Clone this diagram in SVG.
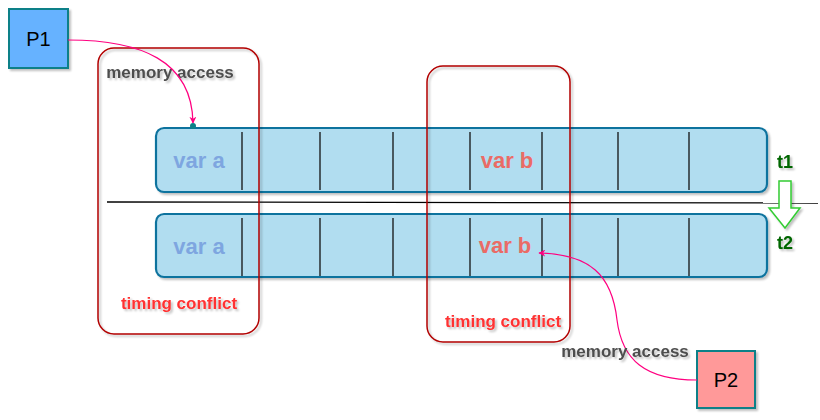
<svg xmlns="http://www.w3.org/2000/svg" width="820" height="420" viewBox="0 0 820 420">
<defs>
<filter id="sh" x="-20%" y="-20%" width="140%" height="140%">
<feGaussianBlur in="SourceAlpha" stdDeviation="1.2"/>
<feOffset dx="2" dy="2" result="o"/>
<feComponentTransfer><feFuncA type="linear" slope="0.25"/></feComponentTransfer>
<feMerge><feMergeNode/><feMergeNode in="SourceGraphic"/></feMerge>
</filter>
<marker id="ah" viewBox="0 0 10 10" refX="9" refY="5" markerWidth="7" markerHeight="7" orient="auto-start-reverse" markerUnits="userSpaceOnUse">
<path d="M0,0 L10,5 L0,10 L3,5 Z" fill="#ff0080"/>
</marker>
<style>
.bar{fill:#b1ddf0;stroke:#10739e;stroke-width:2.2;filter:url(#sh)}
.div{stroke:#111;stroke-width:1.3}
.frame{fill:none;stroke:#b20000;stroke-width:1.5;filter:url(#sh)}
.varA{font-family:"Liberation Sans",Arial,sans-serif;font-weight:bold;font-size:22px;fill:#7ea6e0;text-anchor:middle}
.varB{font-family:"Liberation Sans",Arial,sans-serif;font-weight:bold;font-size:22px;fill:#ea6b66;text-anchor:middle}
.lbl{font-family:"Liberation Sans",Arial,sans-serif;font-weight:bold;font-size:17px;fill:#4d4d4d;text-anchor:middle;filter:url(#sh)}
.tc{font-family:"Liberation Sans",Arial,sans-serif;font-weight:bold;font-size:17px;fill:#ff3333;text-anchor:middle;filter:url(#sh)}
.t{font-family:"Liberation Sans",Arial,sans-serif;font-weight:bold;font-size:18px;fill:#006600;text-anchor:middle;filter:url(#sh)}
.proc{stroke:#0e8088;stroke-width:2;filter:url(#sh)}
.ptxt{font-family:"Liberation Sans",Arial,sans-serif;font-size:20px;fill:#000;text-anchor:middle}
.conn{fill:none;stroke:#ff0080;stroke-width:1.2}
</style>
</defs>
<rect width="820" height="420" fill="#fff"/>

<g id="memory-row-t1">
<rect class="bar" x="156" y="128" width="611" height="64" rx="8"/>
<g class="div">
<line x1="242" y1="132" x2="242" y2="190"/>
<line x1="320" y1="132" x2="320" y2="190"/>
<line x1="393" y1="132" x2="393" y2="190"/>
<line x1="470" y1="132" x2="470" y2="190"/>
<line x1="542" y1="132" x2="542" y2="190"/>
<line x1="618" y1="132" x2="618" y2="190"/>
<line x1="689" y1="132" x2="689" y2="190"/>
</g>
<text class="varA" x="199" y="168">var a</text>
<text class="varB" x="507" y="168">var b</text>
</g>

<g id="memory-row-t2">
<rect class="bar" x="156" y="214" width="611" height="63" rx="8"/>
<g class="div">
<line x1="242" y1="218" x2="242" y2="276"/>
<line x1="320" y1="218" x2="320" y2="276"/>
<line x1="393" y1="218" x2="393" y2="276"/>
<line x1="470" y1="218" x2="470" y2="276"/>
<line x1="542" y1="218" x2="542" y2="276"/>
<line x1="618" y1="218" x2="618" y2="276"/>
<line x1="689" y1="218" x2="689" y2="276"/>
</g>
<text class="varA" x="199" y="254">var a</text>
<text class="varB" x="505" y="253">var b</text>
</g>

<g id="time-divider">
<line x1="107" y1="202" x2="818" y2="203" stroke="#000" stroke-width="1.3"/>
</g>

<g id="conflict-a">
<rect class="frame" x="98" y="48" width="161" height="286" rx="16"/>
<text class="lbl" x="170" y="78">memory access</text>
<text class="tc" x="179" y="309">timing conflict</text>
</g>

<g id="conflict-b">
<rect class="frame" x="427" y="66" width="143" height="276" rx="16"/>
<text class="tc" x="503" y="327">timing conflict</text>
</g>

<g id="time-arrow">
<path d="M779,181 L791,181 L791,208 L800,208 L785,228 L769,208 L779,208 Z" fill="#fff" stroke="#33cc33" stroke-width="1.5" filter="url(#sh)"/>
<text class="t" x="785" y="168">t1</text>
<text class="t" x="785" y="249">t2</text>
</g>

<g id="P1">
<rect class="proc" x="9" y="9" width="59" height="59" fill="#66b2ff"/>
<text class="ptxt" x="38.5" y="46">P1</text>
</g>

<g id="P2">
<rect class="proc" x="697" y="351" width="58" height="57" fill="#ff9999"/>
<text class="ptxt" x="726" y="387">P2</text>
</g>

<g id="connectors">
<path class="conn" d="M68,40 C140,40 192,60 193,123" marker-end="url(#ah)"/>
<circle cx="193" cy="126" r="3" fill="#0e8088"/>
<path class="conn" d="M697,380 C645,380 622,360 617,320 C612,275 590,254 539,253" marker-end="url(#ah)"/>
<text class="lbl" x="625" y="357">memory access</text>
</g>
</svg>
